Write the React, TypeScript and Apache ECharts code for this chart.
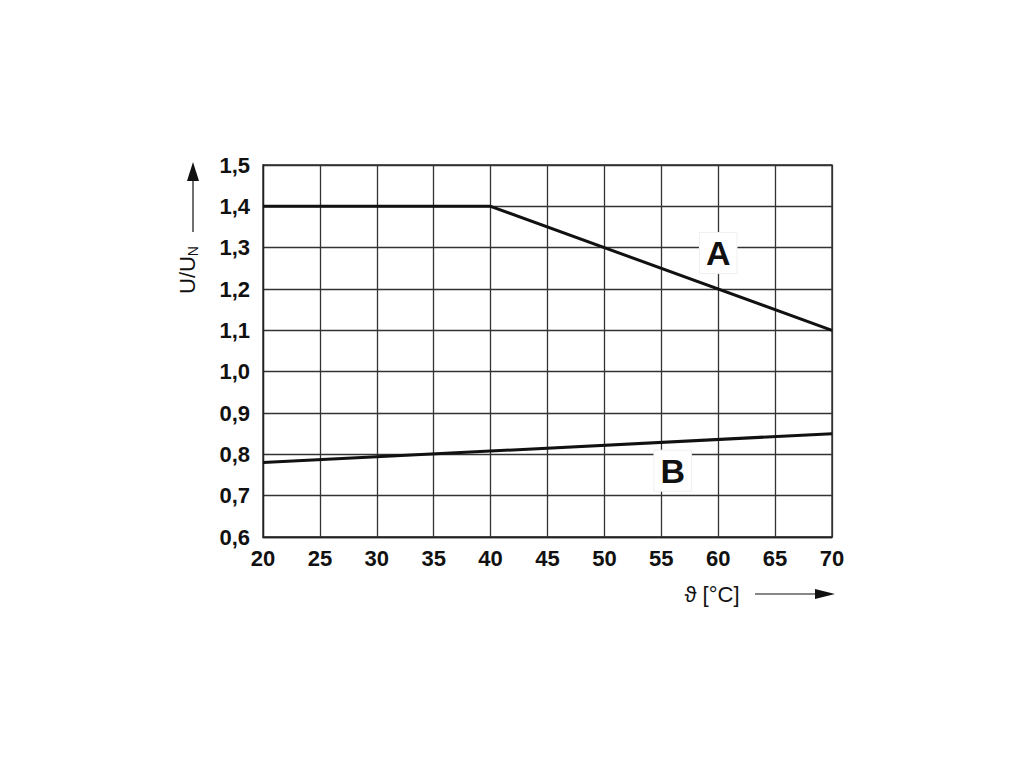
import React, { useEffect, useRef } from "react";
import * as echarts from "echarts";

const xTicks = [20, 25, 30, 35, 40, 45, 50, 55, 60, 65, 70];
const curveA: [number, number][] = [
  [20, 1.4],
  [40, 1.4],
  [70, 1.1],
];
const curveB: [number, number][] = [
  [20, 0.78],
  [70, 0.85],
];
const labelA: [number, number] = [60, 1.287];
const labelB: [number, number] = [56, 0.76];
const yMin = 0.6;
const yMax = 1.5;

export default function App() {
  const ref = useRef<HTMLDivElement>(null);
  useEffect(() => {
    document.body.style.margin = "0";
    const chart = echarts.init(ref.current!, null, { renderer: "svg" });
    const font = "'Liberation Sans', Arial, Helvetica, sans-serif";
    const lineStyle = { color: "#111", width: 3 };
    const boxLabel = (text: string) => ({
      show: true,
      formatter: text,
      position: "inside",
      fontFamily: font,
      fontWeight: "bold",
      fontSize: 34,
      color: "#111",
      backgroundColor: "#fff",
      borderColor: "#f0f0f0",
      borderWidth: 1,
      padding: [4, 6, 2, 6],
    });
    chart.setOption({
      animation: false,
      backgroundColor: "#fff",
      grid: {
        left: 263,
        right: 188,
        top: 165,
        bottom: 228,
        show: true,
        borderColor: "#222",
        borderWidth: 1.3,
      },
      xAxis: {
        type: "value",
        min: xTicks[0],
        max: xTicks[xTicks.length - 1],
        interval: 5,
        axisLine: { show: true, lineStyle: { color: "#222", width: 1.3 } },
        axisTick: { show: false },
        splitLine: { show: true, lineStyle: { color: "#333", width: 1.3 } },
        axisLabel: {
          fontFamily: font,
          fontWeight: "bold",
          fontSize: 22,
          color: "#111",
          margin: 10,
        },
      },
      yAxis: {
        type: "value",
        min: yMin,
        max: yMax,
        interval: 0.1,
        axisLine: { show: true, lineStyle: { color: "#222", width: 1.3 } },
        axisTick: { show: false },
        splitLine: { show: true, lineStyle: { color: "#333", width: 1.3 } },
        axisLabel: {
          fontFamily: font,
          fontWeight: "bold",
          fontSize: 22,
          color: "#111",
          margin: 13,
          formatter: (v: number) => v.toFixed(1).replace(".", ","),
        },
      },
      series: [
        {
          type: "line",
          data: curveA,
          symbol: "none",
          lineStyle,
          z: 3,
        },
        {
          type: "line",
          data: curveB,
          symbol: "none",
          lineStyle,
          z: 3,
        },
        {
          type: "scatter",
          data: [labelA],
          symbolSize: 0,
          itemStyle: { opacity: 1 },
          label: boxLabel("A"),
          z: 5,
        },
        {
          type: "scatter",
          data: [labelB],
          symbolSize: 0,
          itemStyle: { opacity: 1 },
          label: boxLabel("B"),
          z: 5,
        },
      ],
      graphic: [
        {
          type: "line",
          shape: { x1: 193, y1: 232, x2: 193, y2: 178 },
          style: { stroke: "#111", lineWidth: 1.2 },
        },
        {
          type: "polygon",
          shape: { points: [[187, 181], [199, 181], [193, 162]] },
          style: { fill: "#111" },
        },
        {
          type: "text",
          x: 187,
          y: 270,
          rotation: Math.PI / 2,
          style: {
            text: "U/U{s|N}",
            rich: { s: { fontSize: 14, fontFamily: font, fill: "#111", padding: [11, 0, 0, 0] } },
            fontFamily: font,
            fontSize: 22,
            fill: "#111",
            align: "center",
            verticalAlign: "middle",
          },
        },
        {
          type: "text",
          x: 712,
          y: 594,
          style: {
            text: "ϑ [°C]",
            fontFamily: font,
            fontSize: 22,
            fill: "#111",
            align: "center",
            verticalAlign: "middle",
          },
        },
        {
          type: "line",
          shape: { x1: 755, y1: 594, x2: 818, y2: 594 },
          style: { stroke: "#111", lineWidth: 1.2 },
        },
        {
          type: "polygon",
          shape: { points: [[815, 589], [815, 599], [835, 594]] },
          style: { fill: "#111" },
        },
      ],
    });
    return () => chart.dispose();
  }, []);
  return <div ref={ref} style={{ width: 1020, height: 765 }} />;
}
